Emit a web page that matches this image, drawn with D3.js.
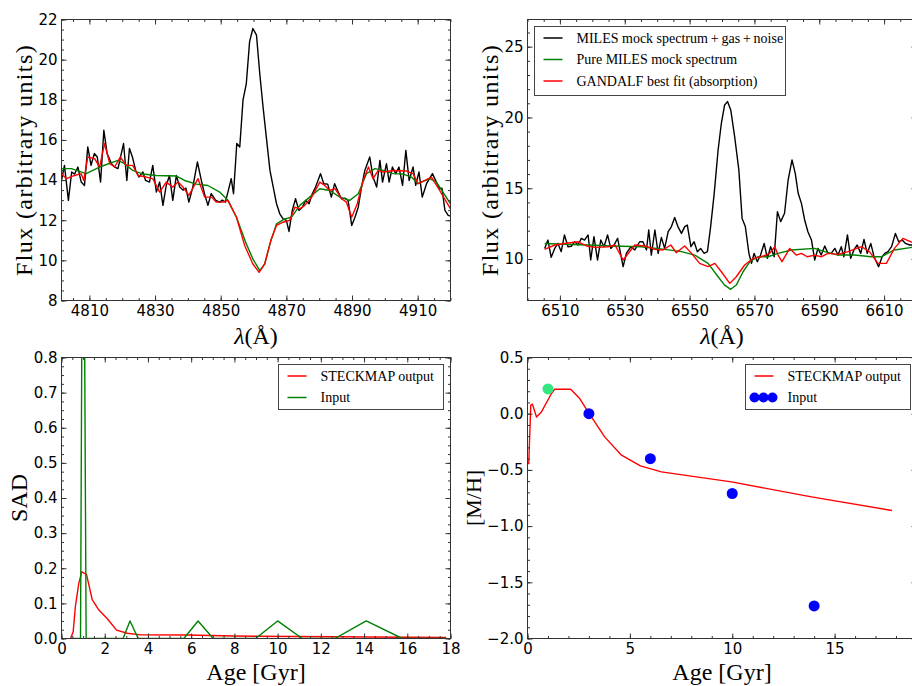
<!DOCTYPE html>
<meta charset="utf-8">
<style>
  body { margin: 0; background: #fff; }
  .tick text { font-family: "DejaVu Sans", sans-serif; font-size: 15px; fill: #000; }
  .tick line { stroke: #333; }
  .lab { font-family: "Liberation Serif", serif; font-size: 24px; fill: #000; }
  .leg text { font-family: "Liberation Serif", serif; font-size: 14px; fill: #000; }
</style>
<body>
<script src="https://d3js.org/d3.v7.min.js"></script>
<script>
// --- H-beta region (top left)
var hbObs = [[4801.4,13.9],[4802.4,14.73],[4803.6,12.99],[4804.6,14.4],[4805.5,14.3],[4806.5,14.65],[4807.5,13.9],[4808.5,13.73],[4809.5,15.65],[4810.5,14.73],[4811.5,15.32],[4812.4,15.15],[4813.4,13.9],[4814.4,16.48],[4815.4,15.32],[4816.7,14.82],[4817.7,14.65],[4818.7,14.57],[4820.4,15.82],[4821.4,13.98],[4822.2,15.57],[4823.1,15.15],[4824.1,14.48],[4825.1,14.15],[4826.3,14.4],[4827.1,13.98],[4828.3,13.9],[4829.3,14.73],[4830.4,13.4],[4831.4,13.9],[4832.4,12.74],[4833.4,13.73],[4834.4,14.23],[4835.4,12.99],[4836.5,14.23],[4837.5,13.65],[4838.5,13.5],[4839.4,13.6],[4840.3,12.9],[4841.5,13.65],[4842.9,14.9],[4844.1,13.98],[4845.1,13.3],[4846.1,12.74],[4847.1,13.32],[4848.5,12.99],[4849.7,12.9],[4850.5,13.0],[4851.4,12.9],[4852.2,13.4],[4853.2,14.07],[4853.9,13.32],[4854.9,15.82],[4855.8,15.65],[4856.8,18.0],[4857.8,18.81],[4858.8,20.9],[4859.8,21.55],[4860.9,21.22],[4861.9,19.3],[4862.9,17.64],[4864,15.98],[4865,14.48],[4866,13.65],[4867,12.82],[4868,12.32],[4869,12.07],[4870,11.99],[4870.8,11.44],[4871.8,12.49],[4872.8,13.07],[4873.8,12.49],[4874.9,12.65],[4875.9,12.99],[4876.9,12.82],[4877.9,13.32],[4878.9,13.65],[4880.4,14.32],[4881.4,13.82],[4882.6,13.8],[4883.7,13.15],[4884.7,13.82],[4885.8,13.4],[4886.8,13.07],[4887.8,13.1],[4888.8,12.99],[4889.9,11.74],[4890.9,12.15],[4891.9,12.65],[4892.9,13.65],[4893.9,14.48],[4895.4,15.15],[4896.4,14.15],[4897.5,13.65],[4898.5,14.98],[4899.3,13.9],[4900.5,14.82],[4901.3,13.9],[4902.3,14.65],[4903.3,14.32],[4904.3,14.65],[4905.4,13.74],[4906.4,15.48],[4907.4,13.98],[4908.6,14.65],[4909.4,13.74],[4910.4,14.4],[4911.4,13.15],[4912.7,13.82],[4914.5,14.32],[4915.7,13.9],[4916.7,13.57],[4917.4,13.6],[4918.3,12.49],[4919.3,12.24],[4920,12.2]];
var hbPure = [[4801.5,14.57],[4804.5,14.57],[4809,14.32],[4813.1,14.65],[4818.7,14.98],[4820.7,14.82],[4823.2,14.48],[4826.3,14.3],[4830.3,14.23],[4836.5,14.2],[4839,13.98],[4842.6,13.8],[4846.1,13.73],[4849.7,13.4],[4852.2,12.99],[4854.8,12.15],[4857.8,10.82],[4859.8,10.07],[4861.9,9.49],[4863.4,9.82],[4865,10.82],[4867,11.82],[4869.5,12.07],[4871.6,12.15],[4874.1,12.74],[4877.1,13.15],[4880.2,13.57],[4883.2,13.48],[4886.3,13.15],[4889.3,12.99],[4891.9,13.32],[4894.4,14.32],[4897,14.57],[4899.5,14.48],[4902.5,14.32],[4905.6,14.3],[4908.1,14.15],[4910.1,13.82],[4913.7,14.07],[4915.7,13.9],[4920,12.82]];
var hbFit = [[4801.5,14.32],[4803,14.07],[4805.5,14.23],[4807.5,14.32],[4808.3,13.98],[4809.5,15.15],[4811.6,15.07],[4813.1,14.65],[4814.6,15.82],[4816.2,14.82],[4817.7,14.65],[4819.4,15.15],[4821.2,14.73],[4823.2,14.73],[4824.8,14.23],[4827.3,14.15],[4829.3,14.07],[4831.4,13.4],[4833.4,13.9],[4835.4,13.65],[4837,13.9],[4838.5,13.65],[4840.3,13.24],[4843.1,14.07],[4845.1,13.15],[4847.2,13.15],[4848.7,12.9],[4850.7,12.9],[4852.2,12.99],[4854.8,12.15],[4857.3,10.74],[4859.8,9.82],[4861.7,9.4],[4863.4,9.82],[4865.4,11.07],[4867,11.74],[4869,11.9],[4871,11.99],[4872.6,12.65],[4874.1,12.57],[4875.6,12.74],[4877.7,13.15],[4880.2,13.9],[4881.7,13.73],[4883.2,13.48],[4884.8,13.57],[4886.8,13.07],[4888.3,12.9],[4889.9,12.15],[4891.6,12.82],[4893.4,13.98],[4895,14.65],[4896.4,14.07],[4898,14.48],[4899.5,14.4],[4902.5,14.48],[4906.6,14.45],[4908.6,14.32],[4910.1,13.82],[4912.2,13.98],[4914.2,14.15],[4916.7,13.48],[4920,12.57]];

// --- H-alpha region (top right)
var haObs = [[6505.3,10.75],[6506.3,11.34],[6507.3,10.12],[6508.4,10.75],[6509.4,11.1],[6510.4,10.52],[6511.4,11.7],[6512.5,10.87],[6513.5,10.9],[6514.6,11.22],[6515.6,10.99],[6516.6,11.46],[6517.6,11.34],[6518.7,11.7],[6519.5,9.93],[6520.5,11.58],[6521.6,9.93],[6522.6,11.34],[6523.6,10.87],[6524.7,11.7],[6525.7,10.75],[6526.7,10.99],[6527.8,11.46],[6529.5,9.46],[6530.5,10.4],[6531.9,10.87],[6533.1,10.64],[6534.6,11.22],[6535.6,11.22],[6536.7,10.64],[6537.4,12.05],[6538.2,10.28],[6539.3,12.05],[6540.3,10.4],[6541.3,11.53],[6542.3,10.75],[6543.4,11.93],[6544.4,12.29],[6545.4,12.94],[6546.4,12.29],[6547.5,11.81],[6548.5,12.29],[6549.3,12.4],[6550.4,10.87],[6551.4,11.22],[6552.4,10.52],[6553.4,10.75],[6554.5,10.4],[6555.5,10.52],[6556.5,12.29],[6557.6,14.64],[6558.8,17.7],[6559.8,19.59],[6560.8,20.88],[6561.7,21.12],[6562.7,20.53],[6563.9,18.65],[6565.2,16.29],[6566.2,12.87],[6567.2,12.29],[6568.3,10.4],[6569.1,9.69],[6569.9,10.4],[6570.9,9.81],[6571.9,10.28],[6573,11.1],[6574,10.05],[6575,10.87],[6576.1,10.16],[6577.1,13.35],[6578.1,12.64],[6579.3,13.23],[6580.4,15.58],[6581.6,17.0],[6582.6,16.05],[6583.5,14.64],[6584.5,13.93],[6585.5,12.76],[6586.5,11.93],[6587.6,11.34],[6588.6,9.93],[6589.6,10.75],[6590.6,10.28],[6591.7,10.92],[6592.7,10.4],[6593.7,10.4],[6594.8,10.75],[6595.8,10.28],[6596.8,10.87],[6597.6,10.16],[6598.7,11.7],[6599.7,10.05],[6600.7,10.64],[6601.7,10.99],[6602.8,10.4],[6603.8,11.39],[6604.8,10.4],[6605.9,11.1],[6606.9,10.16],[6608.3,9.46],[6609.4,10.16],[6610.2,10.4],[6611.2,10.52],[6612.3,10.87],[6613.5,11.81],[6614.5,11.22],[6615.6,11.34],[6616.6,11.1],[6617.9,10.99],[6620,11.0]];
var haPure = [[6505.3,11.1],[6511.4,11.04],[6518.7,10.99],[6525.9,10.92],[6535.1,10.87],[6542.3,10.68],[6547.5,10.52],[6551.6,10.28],[6555.7,9.69],[6558.8,8.75],[6560.8,8.16],[6562.7,7.86],[6564.4,8.16],[6566.5,9.1],[6568.6,9.81],[6571.1,10.16],[6574.2,10.16],[6577.3,10.4],[6581.4,10.64],[6588.6,10.75],[6591.7,10.52],[6595.8,10.28],[6600.9,10.28],[6606,10.16],[6609.1,10.16],[6613.2,10.64],[6620,10.87]];
var haFit = [[6505.3,10.68],[6508.4,10.99],[6511.4,11.1],[6515.6,11.22],[6518.2,10.92],[6520.8,10.82],[6524.9,10.87],[6527,10.99],[6529.5,9.93],[6533.1,10.99],[6536.2,10.92],[6539.3,10.68],[6541.8,10.64],[6544.2,10.99],[6545.9,10.45],[6548.5,10.92],[6550.6,10.4],[6553.1,9.69],[6555.7,9.46],[6557.8,9.69],[6559.8,9.1],[6562.4,8.28],[6564.4,8.75],[6567,9.58],[6569.6,10.05],[6572.1,10.16],[6574.7,10.4],[6576.3,10.87],[6577.3,10.28],[6578.5,9.81],[6580.9,10.75],[6582.9,10.28],[6584.5,10.4],[6586.3,10.16],[6588.6,10.28],[6590.6,10.16],[6592.7,10.4],[6595.8,10.33],[6598.9,10.52],[6603,10.87],[6605.5,10.52],[6608.1,9.69],[6610.7,9.69],[6613.2,10.75],[6615.8,11.46],[6620,11.05]];

// --- star formation history (bottom left)
var sadOut = [[0.42,0],[0.54,0.019],[0.64,0.09],[0.8,0.157],[0.94,0.19],[1.16,0.182],[1.42,0.111],[1.73,0.081],[2.11,0.057],[2.55,0.024],[3.04,0.015],[3.66,0.0103],[5.82,0.01],[7.97,0.007],[12.6,0.005],[17.8,0.003]];
var sadIn = [[0.42,0],[0.88,0],[1.0,1.7],[1.14,0],[2.85,0],[3.17,0.05],[3.55,0],[5.66,0],[6.32,0.05],[7.02,0],[8.98,0],[10.0,0.05],[11.14,0],[12.65,0],[14.1,0.05],[15.77,0],[17.8,0]];

// --- metallicity (bottom right)
var mhOut = [[0.06,-0.45],[0.16,0.076],[0.24,0.085],[0.44,-0.03],[0.68,0.016],[1.17,0.18],[1.33,0.218],[2.11,0.218],[2.55,0.135],[2.96,0.016],[3.77,-0.206],[4.59,-0.369],[5.52,-0.464],[6.54,-0.518],[9.96,-0.607],[13.87,-0.74],[17.8,-0.861]];
var mhInAge = [1, 3, 6, 10, 14];
var mhInVal = [0.22, 0.0, -0.4, -0.71, -1.71];
var mhInCol = ["#33e680", "#0000ff", "#0000ff", "#0000ff", "#0000ff"];

var svg = d3.select("body").append("svg").attr("width", 912).attr("height", 686);
var PW = 389, PH = 281;

function panel(o) {
	var g = svg.append("g").attr("transform", "translate(" + o.left + "," + o.top + ")");
	var x = d3.scaleLinear().domain(o.xd).range([0, PW]);
	var y = d3.scaleLinear().domain(o.yd).range([PH, 0]);
	g.append("clipPath").attr("id", "c" + o.id).append("rect").attr("width", PW).attr("height", PH);
	var plot = g.append("g").attr("clip-path", "url(#c" + o.id + ")");

	var xmin = d3.range(o.xm[0], o.xd[1] + 1e-9, o.xm[1]).filter(function(v){ return v >= o.xd[0]; });
	var ymin = d3.range(o.ym[0], o.yd[1] + 1e-9, o.ym[1]).filter(function(v){ return v >= o.yd[0]; });
	var fmt = o.fmt || d3.format("d");
	var axes = [
		[d3.axisBottom(x), "translate(0," + PH + ")", o.xt, xmin, fmt],
		[d3.axisTop(x), null, o.xt, xmin, null],
		[d3.axisLeft(y), null, o.yt, ymin, fmt],
		[d3.axisRight(y), "translate(" + PW + ",0)", o.yt, ymin, null]
	];
	axes.forEach(function(a, i) {
		var lab = a[4] ? (i == 2 ? (o.yfmt || fmt) : fmt) : function(){ return ""; };
		var ga = g.append("g").attr("transform", a[1]).call(a[0].tickValues(a[2]).tickSizeInner(-5).tickSizeOuter(0).tickPadding(i == 2 ? 4 : 5).tickFormat(lab));
		ga.select(".domain").remove();
		var gm = g.append("g").attr("transform", a[1]).call(a[0].tickValues(a[3]).tickSizeInner(-2.5).tickFormat(""));
		gm.select(".domain").remove();
	});
	g.selectAll(".tick text").attr("font-family", null).attr("font-size", null);
	return { g: g, x: x, y: y, plot: plot };
}

function frame(p) {
	p.g.append("rect").attr("width", PW).attr("height", PH).attr("fill", "none").attr("stroke", "#333").attr("stroke-width", 1);
}

function curve(p, data, col, w) {
	var line = d3.line().x(function(d){ return p.x(d[0]); }).y(function(d){ return p.y(d[1]); });
	p.plot.append("path").datum(data).attr("d", line).attr("fill", "none").attr("stroke", col).attr("stroke-width", w || 1.4).attr("stroke-linejoin", "round");
}

function ylabel(x, y, txt, sp, fs) {
	svg.append("text").attr("class", "lab").attr("transform", "translate(" + x + "," + y + ") rotate(-90)")
	   .attr("text-anchor", "middle").style("letter-spacing", sp ? sp + "px" : null)
	   .style("font-size", fs ? fs + "px" : null).text(txt);
}
function xlabel(x, y, sel) {
	var t = svg.append("text").attr("class", "lab").attr("x", x).attr("y", y).attr("text-anchor", "middle");
	sel(t);
}
function lambdaLab(t) {
	t.append("tspan").attr("font-style", "italic").text("λ");
	t.append("tspan").text("(Å)");
}

function legend(x, y, w, h, rows) {
	var g = svg.append("g").attr("class", "leg").attr("transform", "translate(" + x + "," + y + ")");
	g.append("rect").attr("width", w).attr("height", h).attr("fill", "#fff").attr("stroke", "#444").attr("stroke-width", 1);
	rows.forEach(function(r, i) {
		var ry = 11.5 + i * 21.5;
		if (r.dots) {
			g.selectAll(null).data([9, 18, 27]).enter().append("circle")
			 .attr("cx", function(d){ return d; }).attr("cy", ry).attr("r", 5).attr("fill", r.col);
		} else {
			g.append("line").attr("x1", 9).attr("x2", 28).attr("y1", ry).attr("y2", ry).attr("stroke", r.col).attr("stroke-width", 1.5);
		}
		g.append("text").attr("x", r.tx).attr("y", ry).attr("dy", "0.33em").text(r.text);
	});
}

// top left
var p1 = panel({ id: 1, left: 61.5, top: 19.5, xd: [4801.5, 4920], yd: [8, 22],
	xt: [4810, 4830, 4850, 4870, 4890, 4910], xm: [4805, 5], yt: [8, 10, 12, 14, 16, 18, 20, 22], ym: [8, 0.5] });
curve(p1, hbObs, "#000");
curve(p1, hbPure, "#008000");
curve(p1, hbFit, "#ff0000");
frame(p1);

// top right
var p2 = panel({ id: 2, left: 527.5, top: 19.5, xd: [6500, 6620], yd: [7.07, 26.92],
	xt: [6510, 6530, 6550, 6570, 6590, 6610], xm: [6500, 5], yt: [10, 15, 20, 25], ym: [8, 1] });
curve(p2, haObs, "#000");
curve(p2, haPure, "#008000");
curve(p2, haFit, "#ff0000");
frame(p2);

// bottom left
var p3 = panel({ id: 3, left: 61.5, top: 357.5, xd: [0, 18], yd: [0, 0.8],
	xt: d3.range(0, 19, 2), xm: [0, 0.5], yt: [0, 0.1, 0.2, 0.3, 0.4, 0.5, 0.6, 0.7, 0.8], ym: [0, 0.025],
	yfmt: d3.format(".1f") });
curve(p3, sadOut, "#ff0000");
curve(p3, sadIn, "#008000");
frame(p3);

// bottom right
var p4 = panel({ id: 4, left: 527.5, top: 357.5, xd: [0, 19], yd: [-2, 0.5],
	xt: [0, 5, 10, 15], xm: [0, 1], yt: [-2, -1.5, -1, -0.5, 0, 0.5], ym: [-2, 0.1],
	yfmt: d3.format(".1f") });
curve(p4, mhOut, "#ff0000");
p4.plot.selectAll("circle").data(mhInAge).enter().append("circle")
	.attr("cx", function(d){ return p4.x(d); })
	.attr("cy", function(d, i){ return p4.y(mhInVal[i]); })
	.attr("r", 5.5)
	.attr("fill", function(d, i){ return mhInCol[i]; });
frame(p4);

// axis labels
ylabel(32, 160, "Flux (arbitrary units)", 1.4);
ylabel(498, 160, "Flux (arbitrary units)", 1.4);
ylabel(27, 498, "SAD");
ylabel(481, 498, "[M/H]", 0, 22);
xlabel(256, 344, lambdaLab);
xlabel(722, 344, lambdaLab);
xlabel(256, 680, function(t){ t.text("Age [Gyr]"); });
xlabel(722, 680, function(t){ t.text("Age [Gyr]"); });

// legends
legend(534.5, 26.5, 251, 69, [
	{ col: "#000", text: "MILES mock spectrum\u2009+\u2009gas\u2009+\u2009noise", tx: 42 },
	{ col: "#008000", text: "Pure MILES mock spectrum", tx: 42 },
	{ col: "#ff0000", text: "GANDALF best fit (absorption)", tx: 42 }
]);
legend(278.5, 364.5, 165, 45, [
	{ col: "#ff0000", text: "STECKMAP output", tx: 42 },
	{ col: "#008000", text: "Input", tx: 42 }
]);
legend(745.5, 364.5, 165, 45, [
	{ col: "#ff0000", text: "STECKMAP output", tx: 42 },
	{ col: "#0000ff", text: "Input", tx: 42, dots: true }
]);
</script>
</body>
